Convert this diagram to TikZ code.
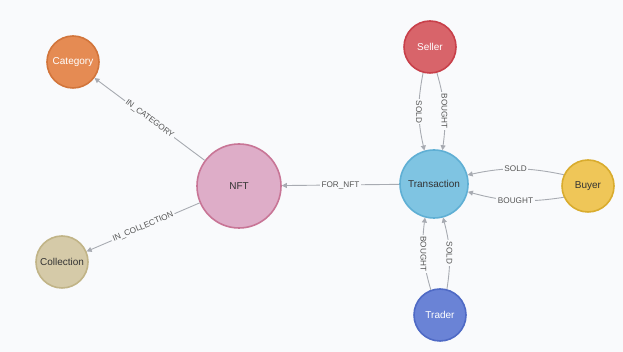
\documentclass[tikz,border=0pt]{standalone}
\usepackage{fontspec}
\setmainfont{Liberation Sans}
\usetikzlibrary{arrows.meta}
\definecolor{bgc}{HTML}{F9FAFC}
\definecolor{edgec}{HTML}{A8ABB2}
\definecolor{lblc}{HTML}{555555}
\definecolor{catF}{HTML}{E58B53}\definecolor{catD}{HTML}{D2753B}
\definecolor{nftF}{HTML}{DEADC8}\definecolor{nftD}{HTML}{C87596}
\definecolor{trF}{HTML}{7FC4E2}\definecolor{trD}{HTML}{5FAFD4}
\definecolor{selF}{HTML}{D8646A}\definecolor{selD}{HTML}{C8404A}
\definecolor{buyF}{HTML}{EFC658}\definecolor{buyD}{HTML}{D9AC2E}
\definecolor{colF}{HTML}{D5CAA8}\definecolor{colD}{HTML}{C1B487}
\definecolor{traF}{HTML}{6A83D6}\definecolor{traD}{HTML}{4F6AC5}
\definecolor{darktxt}{HTML}{333333}
\begin{document}
\begin{tikzpicture}[x=1pt,y=1pt,
  gnode/.style={circle,line width=1.6pt,inner sep=0pt,font=\fontsize{10}{12}\selectfont},
  smallnode/.style={gnode,minimum size=52pt},
  rel/.style={draw=edgec,line width=0.9pt,-{Triangle[length=5pt,width=5pt]}},
  lbl/.style={fill=bgc,text=lblc,inner sep=1.5pt,font=\fontsize{8.2}{9}\selectfont}]
\fill[bgc] (0,0) rectangle (623,352);
\useasboundingbox (0,0) rectangle (623,352);
\node[smallnode,fill=catF,draw=catD,text=white] (cat) at (73,290) {Category};
\node[smallnode,fill=colF,draw=colD,text=darktxt] (col) at (62,90) {Collection};
\node[gnode,minimum size=84pt,fill=nftF,draw=nftD,text=darktxt] (nft) at (239,166) {NFT};
\node[gnode,minimum size=68pt,fill=trF,draw=trD,text=darktxt] (tr) at (434,168) {Transaction};
\node[smallnode,fill=selF,draw=selD,text=white] (sel) at (430,305) {Seller};
\node[smallnode,fill=buyF,draw=buyD,text=darktxt] (buy) at (588,166) {Buyer};
\node[smallnode,fill=traF,draw=traD,text=white] (tra) at (440,37) {Trader};
% edges
\draw[rel] (nft) -- node[lbl,rotate=-36.8]{IN\_CATEGORY} (cat);
\draw[rel] (nft) -- node[lbl,rotate=23.2]{IN\_COLLECTION} (col);
\draw[rel] (tr) -- node[lbl]{FOR\_NFT} (nft);
\draw[rel] (sel.-105) to[bend right=12] node[lbl,rotate=-90]{SOLD} (tr.106);
\draw[rel] (sel.-75) to[bend left=12] node[lbl,rotate=-90]{BOUGHT} (tr.76);
\draw[rel] (buy.155) to[bend right=12] node[lbl]{SOLD} (tr.15);
\draw[rel] (buy.-155) to[bend left=12] node[lbl]{BOUGHT} (tr.-13);
\draw[rel] (tra.110) to[bend left=12] node[lbl,rotate=-90]{BOUGHT} (tr.-105);
\draw[rel] (tra.75) to[bend right=12] node[lbl,rotate=-90]{SOLD} (tr.-75);
\end{tikzpicture}
\end{document}
